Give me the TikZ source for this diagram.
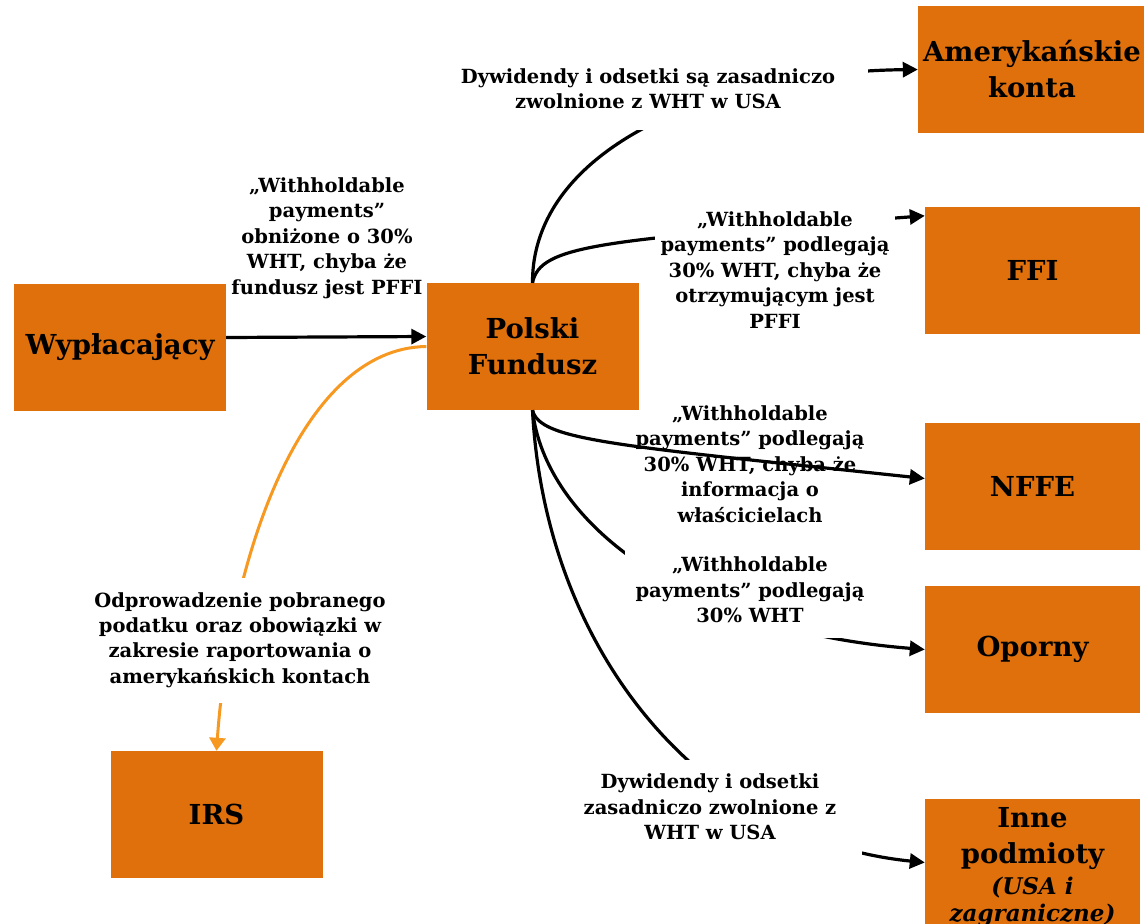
\documentclass[tikz,border=0pt]{standalone}
\usepackage{fontspec}
\setmainfont{DejaVu Serif}
\usetikzlibrary{arrows.meta}
\definecolor{boxorange}{RGB}{224,112,12}
\definecolor{lineorange}{RGB}{247,152,32}

\begin{document}
\begin{tikzpicture}[x=1pt, y=-1pt,
    entity/.style={fill=boxorange, minimum width=212pt, minimum height=127pt, inner sep=0pt,
      align=center, font=\fontsize{27.5}{36}\selectfont\bfseries},
    note/.style={align=center, inner sep=0pt, font=\fontsize{19.5}{25.5}\selectfont\bfseries},
    cover/.style={note, fill=white},
    flow/.style={-{Triangle[length=15pt,width=15pt]}, line width=3.2pt},
    tax/.style={-{Triangle[length=13pt,width=16pt]}, line width=3pt, draw=lineorange, fill=none}]

            \useasboundingbox (0,0) rectangle (1144,924);

            \def \colw {215pt} % width of the right column

            % boxes
            \node[entity] (payer) at (120,347.5) {Wypłacający};
            \node[entity] (fund) at (532.5,346.5) {Polski\\Fundusz};
            \node[entity] (irs) at (216.5,814.5) {IRS};
            \node[entity, minimum width=228pt] (usacc) at (1032,69.5) {Amerykańskie\\konta};
            \foreach \name/\y/\txt in {ffi/270.5/FFI, nffe/486.5/NFFE, oporny/649.5/Oporny}
            {
              \node[entity, minimum width=\colw] (\name) at (1032.5,\y) {\txt};
            }
            % runs off the bottom edge, as in the slide
            \node[entity, minimum width=\colw, minimum height=137pt] (other) at (1032.5,867.5)
              {Inne\\podmioty\\[-5pt]{\itshape\fontsize{23}{26}\selectfont (USA i}\\[-9pt]{\itshape\fontsize{23}{26}\selectfont zagraniczne)}};

            % connectors
            \draw[flow] ([yshift=10pt]payer.east) -- ([yshift=10pt]fund.west);
            \draw[flow] (fund.north) .. controls (532,150) and (710,72) .. (usacc.west);
            \draw[flow] (fund.north) .. controls (540,245) and (600,240) .. ([yshift=-9pt]ffi.north west);
            \draw[flow] (fund.south) .. controls (540,440) and (610,445) .. ([yshift=8pt]nffe.west);
            \draw[flow] (fund.south) .. controls (545,520) and (680,630) .. (oporny.west);
            \draw[flow] (fund.south) .. controls (545,650) and (700,840) .. ([yshift=5pt]other.west);
            \draw[tax] (fund.west) .. controls (300,348) and (230,560) .. (irs.north);

            % labels
            \node[note] (payinfo) at (327,238)
              {„Withholdable\\payments”\\obniżone o 30\%\\WHT, chyba że\\fundusz jest PFFI};
            \node[cover, minimum width=440pt, minimum height=83pt] (usinfo) at (648,88.5)
              {Dywidendy i odsetki są zasadniczo\\zwolnione z WHT w USA};
            \node[cover, minimum width=240pt, minimum height=130pt] (ffiinfo) at (775,270)
              {„Withholdable\\payments” podlegają\\30\% WHT, chyba że\\otrzymującym jest\\PFFI};
            \node[note] (nffeinfo) at (750,464)
              {„Withholdable\\payments” podlegają\\30\% WHT, chyba że\\informacja o\\właścicielach};
            \node[cover, minimum width=250pt, minimum height=95pt] (oporinfo) at (750,590)
              {„Withholdable\\payments” podlegają\\30\% WHT};
            \node[cover, minimum width=304pt, minimum height=95pt] (otherinfo) at (710,807)
              {Dywidendy i odsetki\\zasadniczo zwolnione z\\WHT w USA};
            \node[cover, minimum width=300pt, minimum height=125pt] (irsinfo) at (240,640)
              {Odprowadzenie pobranego\\podatku oraz obowiązki w\\zakresie raportowania o\\amerykańskich kontach};
            \end{tikzpicture}
\end{document}
